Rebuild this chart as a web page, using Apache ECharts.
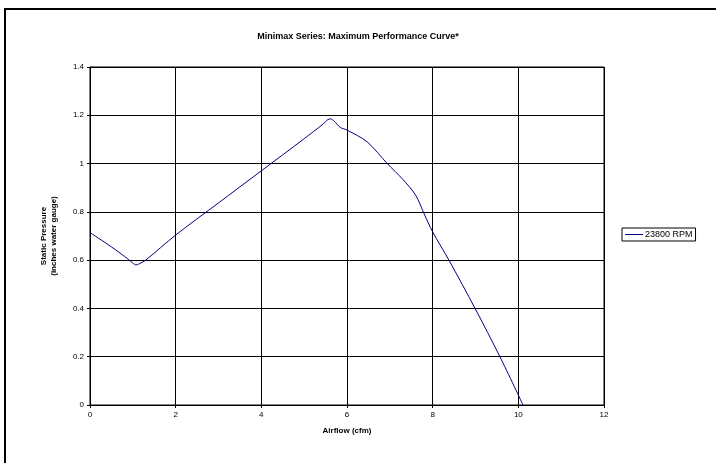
<!DOCTYPE html>
<html><head><meta charset="utf-8">
<script src="https://cdn.jsdelivr.net/npm/echarts@6/dist/echarts.min.js"></script>
<style>html,body{margin:0;padding:0;background:#fff}#c{width:716px;height:463px}</style>
</head><body><div id="c"></div>
<script>
var seriesName = '23800 RPM';
var airflow = [0, 0.5, 0.9, 1.0, 1.07, 1.15, 1.3, 2, 3, 4, 5, 5.45, 5.55, 5.62, 5.7, 5.84, 6, 6.47, 6.94, 7.3, 7.6, 7.8, 8, 8.38, 8.99, 9.57, 10.11];
var pressure = [0.714, 0.655, 0.603, 0.588, 0.58, 0.585, 0.6, 0.704, 0.837, 0.97, 1.103, 1.165, 1.182, 1.185, 1.176, 1.15, 1.139, 1.09, 1.0, 0.935, 0.87, 0.792, 0.717, 0.6, 0.4, 0.2, 0];
var xTicks = [0, 2, 4, 6, 8, 10, 12];
var yTicks = [0, 0.2, 0.4, 0.6, 0.8, 1, 1.2, 1.4];

var data = airflow.map(function (x, i) { return [x, pressure[i]]; });
var font = 'Liberation Sans, Arial, sans-serif';
var chart = echarts.init(document.getElementById('c'), null, {renderer: 'canvas'});
chart.setOption({
  backgroundColor: '#fff',
  animation: false,
  title: {
    text: 'Minimax Series: Maximum Performance Curve*',
    left: 'center', top: 32, padding: 0,
    textStyle: {fontFamily: font, fontSize: 9, fontWeight: 'bold', color: '#000'}
  },
  graphic: [{
    type: 'rect', shape: {x: 5, y: 9, width: 730, height: 480},
    style: {fill: 'none', stroke: '#000', lineWidth: 2}, silent: true
  }],
  legend: {
    left: 622, top: 228, orient: 'vertical',
    padding: [2, 3, 2, 3], borderColor: '#000', borderWidth: 1,
    itemWidth: 18, itemHeight: 1, itemGap: 0,
    icon: 'rect',
    textStyle: {fontFamily: font, fontSize: 9, color: '#000', padding: [0, 0, 0, -3]},
    data: [seriesName]
  },
  grid: {left: 90, right: 112, top: 67, bottom: 58, show: true, borderColor: '#000', borderWidth: 1},
  xAxis: {
    type: 'value', min: 0, max: 12, interval: 2,
    name: 'Airflow (cfm)', nameLocation: 'middle', nameGap: 22,
    nameTextStyle: {fontFamily: font, fontSize: 8, fontWeight: 'bold', color: '#000'},
    axisLine: {lineStyle: {color: '#000', width: 1}},
    axisTick: {show: true, length: 3, inside: false, lineStyle: {color: '#000'}},
    axisLabel: {fontFamily: font, fontSize: 8, color: '#000', margin: 6,
      formatter: function (v) { return xTicks.indexOf(v) >= 0 ? String(v) : ''; }},
    splitLine: {show: true, lineStyle: {color: '#000', width: 1}}
  },
  yAxis: {
    type: 'value', min: 0, max: 1.4, interval: 0.2,
    name: 'Static Pressure\n(inches water gauge)', nameLocation: 'middle', nameGap: 31,
    nameTextStyle: {fontFamily: font, fontSize: 8, fontWeight: 'bold', color: '#000', lineHeight: 10},
    axisLine: {lineStyle: {color: '#000', width: 1}},
    axisTick: {show: true, length: 3, inside: false, lineStyle: {color: '#000'}},
    axisLabel: {fontFamily: font, fontSize: 8, color: '#000', margin: 6,
      formatter: function (v) {
        for (var i = 0; i < yTicks.length; i++) if (Math.abs(yTicks[i] - v) < 1e-9) return String(yTicks[i]);
        return '';
      }},
    splitLine: {show: true, lineStyle: {color: '#000', width: 1}}
  },
  series: [{
    name: seriesName, type: 'line', data: data,
    smooth: 0.3, showSymbol: false, symbol: 'none',
    lineStyle: {color: '#000080', width: 1},
    itemStyle: {color: '#000080'}
  }]
});
</script></body></html>
